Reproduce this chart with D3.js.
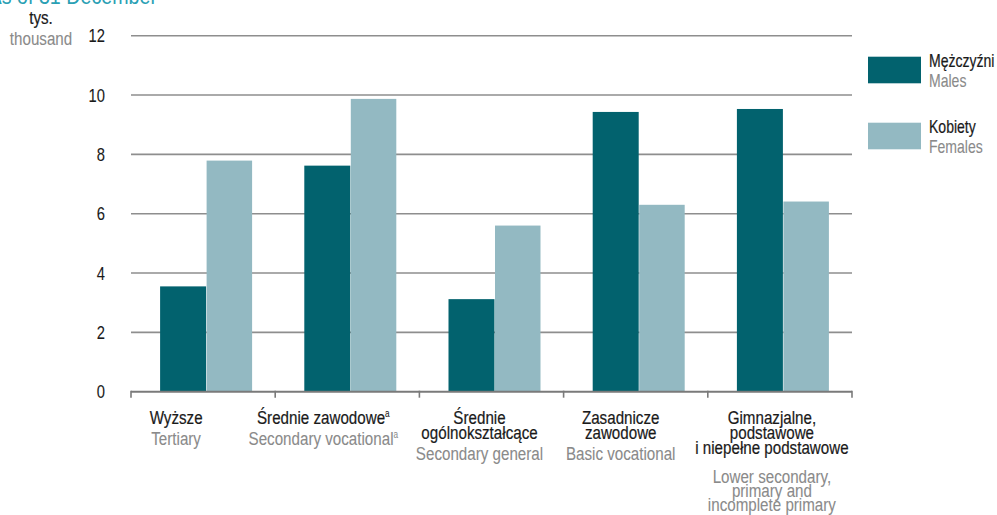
<!DOCTYPE html>
<html>
<head>
<meta charset="utf-8">
<script src="https://cdn.jsdelivr.net/npm/d3@7/dist/d3.min.js"></script>
<style>
  html, body { margin: 0; padding: 0; background: #fff; }
  svg { display: block; font-family: "Liberation Sans", Arial, sans-serif; }
</style>
</head>
<body>
<svg id="chart" width="997" height="515"></svg>
<script>
const categoriesPL = [
  ["Wyższe"],
  ["Średnie zawodowe"],
  ["Średnie", "ogólnokształcące"],
  ["Zasadnicze", "zawodowe"],
  ["Gimnazjalne,", "podstawowe", "i niepełne podstawowe"]
];
const categoriesEN = [
  ["Tertiary"],
  ["Secondary vocational"],
  ["Secondary general"],
  ["Basic vocational"],
  ["Lower secondary,", "primary and", "incomplete primary"]
];
const footnoteMarks = ["", "a", "", "", ""];
const categoryKeys = ["tertiary", "secVoc", "secGen", "basicVoc", "lowerSec"];
const seriesKeys = ["males", "females"];
const seriesPL = ["Mężczyźni", "Kobiety"];
const seriesEN = ["Males", "Females"];
const malesValues = [3.55, 7.62, 3.12, 9.43, 9.53];
const femalesValues = [7.79, 9.87, 5.60, 6.30, 6.41];
const yTicks = [0, 2, 4, 6, 8, 10, 12];
const yUnitPL = "tys.";
const yUnitEN = "thousand";
const titleText = "As of 31 December";

const colors = { males: "#02626e", females: "#93b9c2" };
const seriesValues = { males: malesValues, females: femalesValues };
const SX = 0.82; // horizontal condensing
const FS = 18.5;
const labelShift = [-27, -24, -12, -15, -8]; // label centre offset from band centre (layout)

const svg = d3.select("#chart");

function addText(parent, x, y, str, o) {
  const fill = o.fill || "#1a1a1a";
  const t = parent.append("text")
    .attr("transform", `translate(${x},${y}) scale(${o.sx || SX},1)`)
    .attr("text-anchor", o.anchor || "start")
    .attr("font-size", o.size || FS)
    .attr("fill", fill)
    .attr("stroke", fill)
    .attr("stroke-width", o.sw === undefined ? 0.22 : o.sw)
    .text(str);
  if (o.dy) t.attr("dy", o.dy);
  return t;
}

const plot = { left: 131, right: 852, top: 35.7, bottom: 391.7 };

const x0 = d3.scaleBand().domain(categoryKeys).range([plot.left, plot.right]).padding(0);
const groupW = 92;
const x1 = d3.scaleBand().domain(seriesKeys).range([0, groupW]).padding(0);
const y = d3.scaleLinear().domain([0, 12]).range([plot.bottom, plot.top]);

// title (cut off at top)
addText(svg, 157, 4, titleText, { anchor: "end", size: 24, fill: "#2aa0b4", sw: 0 });

// gridlines
const grid = svg.append("g");
grid.selectAll("line").data(yTicks.filter(d => d > 0)).join("line")
  .attr("x1", plot.left).attr("x2", plot.right)
  .attr("y1", d => y(d)).attr("y2", d => y(d))
  .attr("stroke", "#8e8e8e").attr("stroke-width", 1.6);

// y tick labels
const yl = svg.append("g");
yTicks.forEach(d => addText(yl, 105, y(d), d, { anchor: "end", size: 18, dy: "0.36em", sw: 0.1 }));

// y unit
addText(svg, 41, 24, yUnitPL, { anchor: "middle" });
addText(svg, 41, 45, yUnitEN, { anchor: "middle", fill: "#8a8a8a", sw: 0.1 });

// bars
const bw = x0.bandwidth();
const groups = svg.append("g").selectAll("g").data(categoryKeys).join("g")
  .attr("transform", d => `translate(${x0(d) + (bw - groupW) / 2 + 3},0)`);
groups.selectAll("rect")
  .data((c, i) => seriesKeys.map(k => ({ key: k, value: seriesValues[k][i] })))
  .join("rect")
  .attr("x", d => x1(d.key) + (d.key === "females" ? 0.5 : 0))
  .attr("width", d => x1.bandwidth() - (d.key === "females" ? 0.5 : 0))
  .attr("y", d => y(d.value))
  .attr("height", d => y(0) - y(d.value))
  .attr("fill", d => colors[d.key]);

// x axis baseline + ticks
const xAxis = svg.append("g");
xAxis.append("line")
  .attr("x1", plot.left).attr("x2", plot.right)
  .attr("y1", plot.bottom).attr("y2", plot.bottom)
  .attr("stroke", "#7a7a7a").attr("stroke-width", 2);
const boundaries = categoryKeys.map(k => x0(k)).concat([plot.right]);
xAxis.selectAll("line.tick").data(boundaries).join("line")
  .attr("class", "tick")
  .attr("x1", d => d).attr("x2", d => d)
  .attr("y1", plot.bottom - 1).attr("y2", plot.bottom + 6)
  .attr("stroke", "#7a7a7a").attr("stroke-width", 1.6);

// category labels
const labels = svg.append("g");
categoryKeys.forEach((k, i) => {
  const cx = x0(k) + bw / 2 + labelShift[i];
  const pl = categoriesPL[i];
  const en = categoriesEN[i];
  const baseY = 424;
  pl.forEach((line, j) => {
    const t = addText(labels, cx, baseY + j * 15, line, { anchor: "middle" });
    if (footnoteMarks[i] && j === pl.length - 1) {
      t.append("tspan").attr("font-size", 10).attr("dy", -7).attr("stroke-width", 0.1).text(footnoteMarks[i]);
    }
  });
  const gap = pl.length >= 3 ? 29 : 21;
  const enY = baseY + (pl.length - 1) * 15 + gap;
  en.forEach((line, j) => {
    const t = addText(labels, cx, enY + j * 14, line, { anchor: "middle", fill: "#8a8a8a", sw: 0.1 });
    if (footnoteMarks[i] && j === en.length - 1) {
      t.append("tspan").attr("font-size", 10).attr("dy", -7).attr("stroke-width", 0.05).text(footnoteMarks[i]);
    }
  });
});

// legend
const legend = svg.append("g");
seriesKeys.forEach((k, i) => {
  const top = 56.7 + i * 66;
  legend.append("rect").attr("x", 868).attr("y", top).attr("width", 53).attr("height", 26.6)
    .attr("fill", colors[k]);
  addText(legend, 929, top + 10.5, seriesPL[i], { size: 18, sx: 0.78 });
  addText(legend, 929, top + 30, seriesEN[i], { size: 18, sx: 0.78, fill: "#8a8a8a", sw: 0.1 });
});
</script>
</body>
</html>
